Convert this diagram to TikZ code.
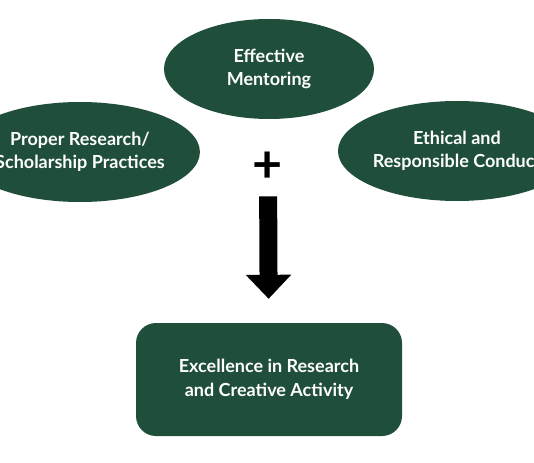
\documentclass[tikz,border=0pt]{standalone}
\usepackage{fontspec}
\setmainfont{Lato}
\usetikzlibrary{arrows.meta, positioning, shapes.geometric}
\definecolor{darkgreen}{RGB}{31,78,59}

\begin{document}
\begin{tikzpicture}[
    x=1pt, y=-1pt,
    pillar/.style={ellipse, fill=darkgreen, text=white, minimum width=210pt, minimum height=100pt, inner sep=0pt, align=center, font=\fontsize{18}{23.5}\selectfont\bfseries},
    outcome/.style={fill=darkgreen, text=white, rounded corners=20pt, minimum width=266pt, minimum height=113pt, align=center, font=\fontsize{18}{23.5}\selectfont\bfseries},
    >={Triangle[width=44pt, length=24pt]}
]
\useasboundingbox (0,0) rectangle (534,462);
\clip (0,0) rectangle (534,462);
\node[pillar] (mentor) at (269,69) {Effective\\Mentoring};
\node[pillar] (practice) at (80,152) {Proper Research/\\Scholarship Practices};
\node[pillar] (ethics) at (457,151) {Ethical and\\Responsible Conduct};
\node[minimum size=28pt, inner sep=0pt, font=\fontsize{52}{52}\selectfont\bfseries] (plus) at (268,167) {+};
\node[outcome] (excel) at (269,379.5) {Excellence in Research\\and Creative Activity};

\draw[->, line width=18pt, shorten <=14pt, shorten >=24pt] (plus) -- (excel);
\end{tikzpicture}
\end{document}
